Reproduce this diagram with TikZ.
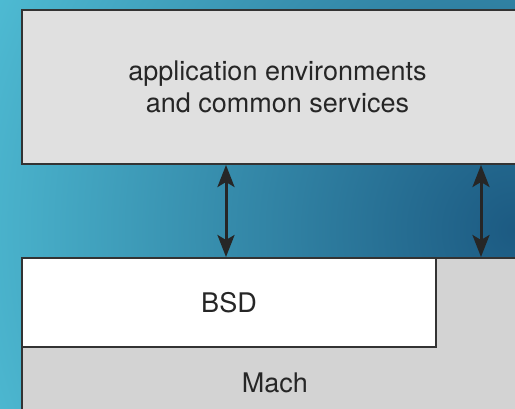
\documentclass[tikz,border=0pt]{standalone}
\usepackage{fontspec}
\setmainfont{TeX Gyre Heros}
\usepackage{tikz}
\usetikzlibrary{positioning}
\usetikzlibrary{arrows.meta}
\definecolor{bgLight}{HTML}{4EBBD3}
\definecolor{bgDark}{HTML}{1C5A82}
\definecolor{edgeGray}{HTML}{333333}
\definecolor{layerTop}{HTML}{E0E0E0}
\definecolor{layerMach}{HTML}{D3D3D3}
\tikzstyle{layer} = [draw=edgeGray, line width=2pt, inner sep=0pt, text=black!85, align=center, font=\fontsize{27}{32}\selectfont]
\tikzstyle{duplex} = [line width=3pt, draw=black!85, {Stealth[length=22pt,width=17pt,inset=5pt]}-{Stealth[length=22pt,width=17pt,inset=5pt]}]

\begin{document}
\begin{tikzpicture}[x=1pt,y=-1pt]
\useasboundingbox (0,0) rectangle (515,408);
\begin{scope}
\clip (0,0) rectangle (515,408);
\fill[bgLight] (0,0) rectangle (515,408);
\shade[inner color=bgDark, outer color=bgLight] (515,230) circle (570);
\node[layer, fill=layerTop, minimum width=511pt, minimum height=154pt] (apps) at (277.5,87) {application environments\\and common services};
\node[layer, fill=layerMach, minimum width=508pt, minimum height=172pt] (mach) at (276,344) {};
\node[layer, fill=white, minimum width=414pt, minimum height=89pt] (bsd) at (229,302.5) {BSD};
\node[text=black!85, font=\fontsize{27}{32}\selectfont] (machtext) at (275,383) {Mach};
\coordinate (left port) at (226,0);
\coordinate (right port) at (481,0);
\draw[duplex] (apps.south -| left port) -- (bsd.north -| left port);
\draw[duplex] (apps.south -| right port) -- (mach.north -| right port);
\end{scope}
\end{tikzpicture}
\end{document}
